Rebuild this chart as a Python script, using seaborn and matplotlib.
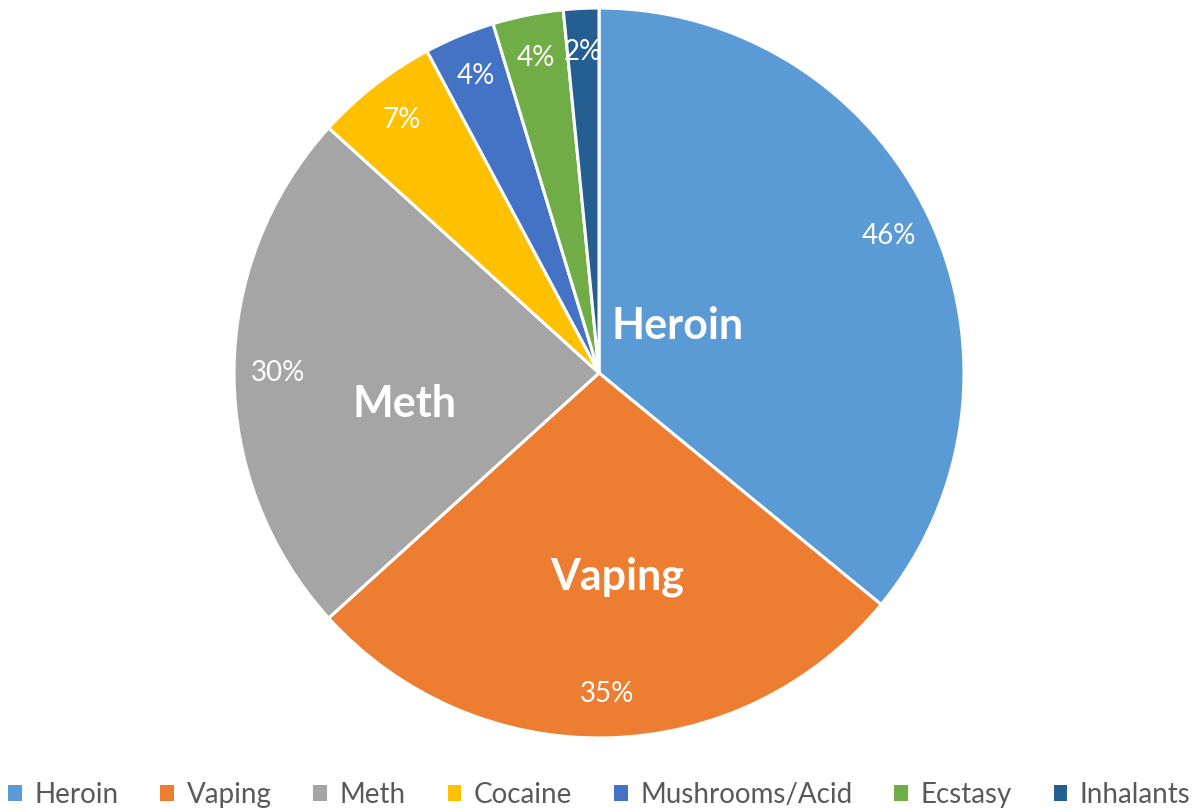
import matplotlib
matplotlib.use('Agg')
import matplotlib.pyplot as plt
import seaborn as sns
import numpy as np

# data
drugs = ['Heroin', 'Vaping', 'Meth', 'Cocaine', 'Mushrooms/Acid', 'Ecstasy', 'Inhalants']
values = [46, 35, 30, 7, 4, 4, 2]
colors = ['#5B9BD5', '#ED7D31', '#A5A5A5', '#FFC000', '#4472C4', '#70AD47', '#255E91']
# big bold names inside the three largest slices: (radius, angle in degrees)
name_labels = {'Heroin': (0.25, 31), 'Vaping': (0.56, -85), 'Meth': (0.54, 189)}

sns.set_theme(style='white')
plt.rcParams['font.family'] = ['Lato', 'DejaVu Sans']

fig = plt.figure(figsize=(11.99, 8.09), dpi=100)
ax = fig.add_axes([0.1952, 0.0878, 0.6088, 0.9023])

wedges, texts, autotexts = ax.pie(
    values, colors=sns.color_palette(colors), startangle=90, counterclock=False,
    autopct=lambda p: '{:.0f}%'.format(p * sum(values) / 100),
    pctdistance=0.88, radius=1,
    wedgeprops=dict(edgecolor='white', linewidth=2.2),
    textprops=dict(color='white', fontsize=20))
ax.set_xlim(-1, 1)
ax.set_ylim(-1, 1)
ax.set_aspect('equal')
ax.axis('off')

for name, (r, ang) in name_labels.items():
    a = np.deg2rad(ang)
    ax.text(r * np.cos(a), r * np.sin(a), name, color='white',
            fontsize=31, fontweight='bold', ha='center', va='center')

leg = fig.legend(wedges, drugs, loc='lower center', ncol=7, frameon=False,
                 bbox_to_anchor=(0.5, -0.03), fontsize=20, handlelength=0.5,
                 handleheight=0.5, handletextpad=0.45, columnspacing=1.5)
for t in leg.get_texts():
    t.set_color('#595959')
for h in leg.legend_handles:
    h.set_edgecolor('none')

plt.savefig('out.png', dpi=100)
plt.close()
